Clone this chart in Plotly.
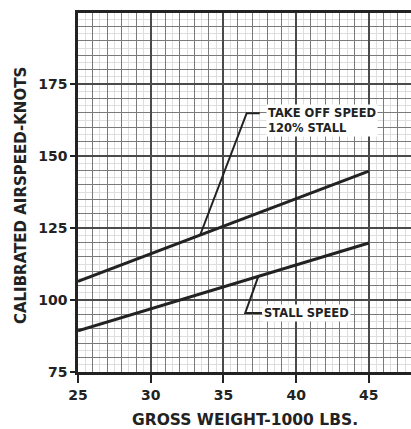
import numpy as np
import plotly.graph_objects as go

# Gross weight (1000 lbs) and calibrated airspeed (knots)
gross_weight = [25, 45]
stall_speed = [89.3, 119.8]
takeoff_speed = [106.5, 144.8]

x_ticks = [25, 30, 35, 40, 45]
y_ticks = [75, 100, 125, 150, 175]

# Callout positions: where each leader leaves its curve, its knee, its end, text anchor
takeoff_callout = dict(x_curve=33.4, knee=(36.6, 164.9), end_x=37.5,
                       text_x=37.95, text_y=162.3,
                       text="TAKE OFF SPEED<br>120% STALL")
stall_callout = dict(x_curve=37.4, knee=(36.5, 95.5), end_x=37.65,
                     text_x=37.65, text_y=95.5, text="STALL SPEED")

INK = "#222222"
FONT = "DejaVu Sans"
X_RANGE = [25, 47.9]
Y_RANGE = [75, 199.7]

fig = go.Figure()

for ys, name in [(takeoff_speed, "Take off speed"), (stall_speed, "Stall speed")]:
    fig.add_trace(go.Scatter(x=gross_weight, y=ys, mode="lines", name=name,
                             line=dict(color=INK, width=3), showlegend=False))

# Leader lines from each curve to its label
for c, ys in [(takeoff_callout, takeoff_speed), (stall_callout, stall_speed)]:
    y_on_curve = float(np.interp(c["x_curve"], gross_weight, ys))
    kx, ky = c["knee"]
    fig.add_trace(go.Scatter(x=[c["x_curve"], kx, c["end_x"]],
                             y=[y_on_curve, ky, ky], mode="lines",
                             line=dict(color=INK, width=2), showlegend=False,
                             hoverinfo="skip"))
    fig.add_annotation(x=c["text_x"], y=c["text_y"], text=c["text"],
                       xanchor="left", yanchor="middle", align="left",
                       showarrow=False, bgcolor="white",
                       font=dict(family=FONT, size=11.5, color=INK, weight="bold"))

# Graph-paper grid: the faint half-step lines sit on the main axes,
# the 1-unit / 5-knot and 5-unit / 25-knot rulings on overlaid axes above them
fig.add_trace(go.Scatter(x=[None], y=[None], xaxis="x2", yaxis="y2",
                         showlegend=False, hoverinfo="skip"))

tickfont = dict(family=FONT, size=14, color=INK, weight="bold")
fig.update_layout(
    width=411, height=429,
    margin=dict(l=78, r=0, t=13, b=57),
    paper_bgcolor="white", plot_bgcolor="white",
    xaxis=dict(range=X_RANGE, tickvals=x_ticks, ticks="outside", ticklen=8,
               tickwidth=2, tickcolor=INK, showline=True, mirror=True,
               linecolor=INK, linewidth=2.5, showgrid=False,
               minor=dict(dtick=0.5, tick0=25, showgrid=True, gridcolor="#dedede",
                          gridwidth=1),
               tickfont=tickfont, zeroline=False),
    yaxis=dict(range=Y_RANGE, tickvals=y_ticks, ticks="outside", ticklen=5,
               tickwidth=2, tickcolor=INK, showline=True, mirror=False,
               linecolor=INK, linewidth=2.5, showgrid=False,
               minor=dict(dtick=2.5, tick0=75, showgrid=True, gridcolor="#dedede",
                          gridwidth=1),
               tickfont=tickfont, zeroline=False),
    xaxis2=dict(range=X_RANGE, overlaying="x", tick0=25, dtick=5,
                showticklabels=False, ticks="", showgrid=True,
                gridcolor="#4a4a4a", gridwidth=2,
                minor=dict(dtick=1, tick0=25, showgrid=True, gridcolor="#7a7a7a",
                           gridwidth=1.3),
                zeroline=False, showline=False),
    yaxis2=dict(range=Y_RANGE, overlaying="y", tick0=75, dtick=25,
                showticklabels=False, ticks="", showgrid=True,
                gridcolor="#4a4a4a", gridwidth=2,
                minor=dict(dtick=5, tick0=75, showgrid=True, gridcolor="#7a7a7a",
                           gridwidth=1.3),
                zeroline=False, showline=False),
)

# Axis titles
fig.add_annotation(xref="paper", yref="paper", x=0, y=0.49, xshift=-57,
                   text="CALIBRATED AIRSPEED-KNOTS", textangle=-90,
                   showarrow=False, xanchor="center", yanchor="middle",
                   font=dict(family=FONT, size=15, color=INK, weight="bold"))
fig.add_annotation(xref="paper", yref="paper", x=0.5015, y=0, yshift=-48,
                   text="GROSS WEIGHT-1000 LBS.", showarrow=False,
                   xanchor="center", yanchor="middle",
                   font=dict(family=FONT, size=15.5, color=INK, weight="bold"))

fig.write_html("out.html")
